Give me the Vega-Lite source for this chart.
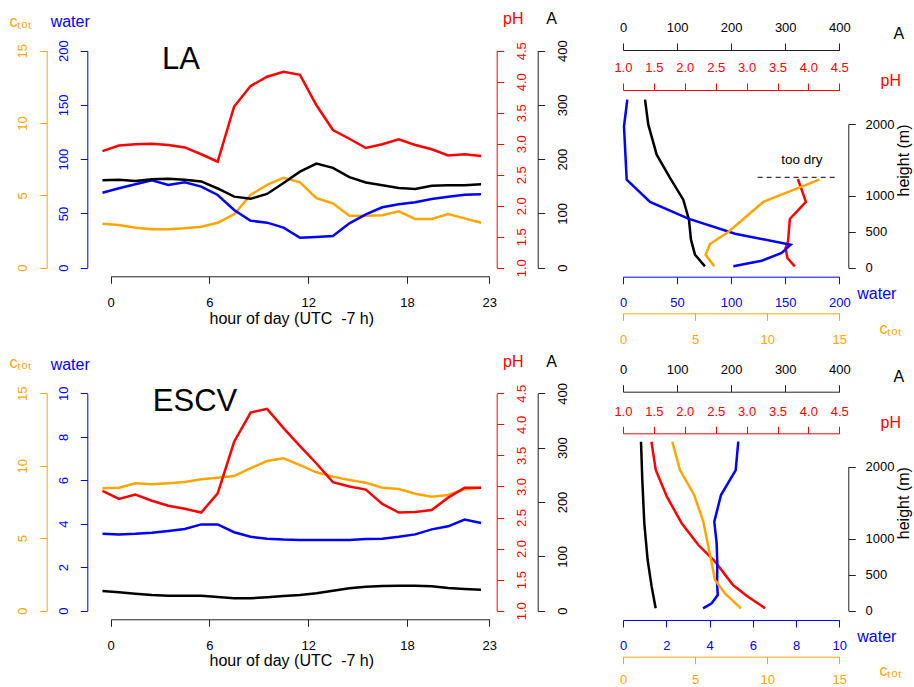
{
  "$schema": "https://vega.github.io/schema/vega-lite/v6.json",
  "width": 914,
  "height": 687,
  "autosize": "none",
  "padding": 0,
  "background": "white",
  "config": {
    "view": {"stroke": null},
    "font": "Liberation Sans",
    "axis": {"grid": false, "tickSize": 7, "labelFontSize": 13, "titleFontSize": 16, "labelFont": "Liberation Sans", "titleFont": "Liberation Sans", "titleFontWeight": "normal", "labelFlush": false, "labelOverlap": false, "labelBound": false, "titlePadding": 0, "domainWidth": 1, "tickWidth": 1},
    "text": {"font": "Liberation Sans"}
  },
  "datasets": {
    "la_d": [
      {"hour": -0.5, "ctot": 3.04, "water": 69.1, "pH": 2.88, "A": 161},
      {"hour": 0.5, "ctot": 2.95, "water": 73.2, "pH": 2.97, "A": 162},
      {"hour": 1.5, "ctot": 2.76, "water": 76.9, "pH": 2.99, "A": 160},
      {"hour": 2.5, "ctot": 2.65, "water": 80.6, "pH": 3.0, "A": 163},
      {"hour": 3.5, "ctot": 2.65, "water": 76.2, "pH": 2.98, "A": 164},
      {"hour": 4.5, "ctot": 2.72, "water": 78.7, "pH": 2.94, "A": 162},
      {"hour": 5.5, "ctot": 2.83, "water": 74.7, "pH": 2.83, "A": 159},
      {"hour": 6.5, "ctot": 3.11, "water": 67.0, "pH": 2.71, "A": 146},
      {"hour": 7.5, "ctot": 3.69, "water": 53.2, "pH": 3.6, "A": 131},
      {"hour": 8.5, "ctot": 5.03, "water": 43.3, "pH": 3.93, "A": 127},
      {"hour": 9.5, "ctot": 5.72, "water": 41.5, "pH": 4.08, "A": 136},
      {"hour": 10.5, "ctot": 6.22, "water": 36.9, "pH": 4.16, "A": 156},
      {"hour": 11.5, "ctot": 5.9, "water": 27.6, "pH": 4.11, "A": 177},
      {"hour": 12.5, "ctot": 4.8, "water": 28.3, "pH": 3.62, "A": 192},
      {"hour": 13.5, "ctot": 4.45, "water": 29.2, "pH": 3.22, "A": 184},
      {"hour": 14.5, "ctot": 3.59, "water": 40.9, "pH": 3.08, "A": 167},
      {"hour": 15.5, "ctot": 3.59, "water": 49.2, "pH": 2.93, "A": 157},
      {"hour": 16.5, "ctot": 3.62, "water": 55.7, "pH": 2.99, "A": 152},
      {"hour": 17.5, "ctot": 3.9, "water": 58.4, "pH": 3.07, "A": 147},
      {"hour": 18.5, "ctot": 3.37, "water": 60.3, "pH": 2.98, "A": 145},
      {"hour": 19.5, "ctot": 3.37, "water": 63.3, "pH": 2.91, "A": 151},
      {"hour": 20.5, "ctot": 3.71, "water": 65.4, "pH": 2.81, "A": 152},
      {"hour": 21.5, "ctot": 3.41, "water": 67.3, "pH": 2.83, "A": 152},
      {"hour": 22.5, "ctot": 3.11, "water": 67.6, "pH": 2.8, "A": 154}
    ],
    "es_d": [
      {"hour": -0.5, "ctot": 8.45, "water": 3.54, "pH": 2.93, "A": 36.2},
      {"hour": 0.5, "ctot": 8.49, "water": 3.51, "pH": 2.8, "A": 33.8},
      {"hour": 1.5, "ctot": 8.79, "water": 3.54, "pH": 2.87, "A": 31.3},
      {"hour": 2.5, "ctot": 8.72, "water": 3.59, "pH": 2.77, "A": 28.9},
      {"hour": 3.5, "ctot": 8.79, "water": 3.67, "pH": 2.69, "A": 27.6},
      {"hour": 4.5, "ctot": 8.88, "water": 3.76, "pH": 2.64, "A": 27.6},
      {"hour": 5.5, "ctot": 9.07, "water": 3.97, "pH": 2.58, "A": 27.6},
      {"hour": 6.5, "ctot": 9.18, "water": 3.97, "pH": 2.89, "A": 25.2},
      {"hour": 7.5, "ctot": 9.29, "water": 3.61, "pH": 3.72, "A": 22.8},
      {"hour": 8.5, "ctot": 9.83, "water": 3.4, "pH": 4.19, "A": 22.8},
      {"hour": 9.5, "ctot": 10.33, "water": 3.31, "pH": 4.25, "A": 24.6},
      {"hour": 10.5, "ctot": 10.51, "water": 3.27, "pH": 3.94, "A": 27.0},
      {"hour": 11.5, "ctot": 10.05, "water": 3.25, "pH": 3.65, "A": 28.9},
      {"hour": 12.5, "ctot": 9.55, "water": 3.25, "pH": 3.37, "A": 32.0},
      {"hour": 13.5, "ctot": 9.25, "water": 3.25, "pH": 3.07, "A": 36.8},
      {"hour": 14.5, "ctot": 9.02, "water": 3.25, "pH": 3.0, "A": 41.2},
      {"hour": 15.5, "ctot": 8.83, "water": 3.3, "pH": 2.95, "A": 44.2},
      {"hour": 16.5, "ctot": 8.49, "water": 3.31, "pH": 2.72, "A": 45.4},
      {"hour": 17.5, "ctot": 8.4, "water": 3.4, "pH": 2.58, "A": 46.0},
      {"hour": 18.5, "ctot": 8.07, "water": 3.51, "pH": 2.59, "A": 46.0},
      {"hour": 19.5, "ctot": 7.87, "water": 3.74, "pH": 2.62, "A": 44.9},
      {"hour": 20.5, "ctot": 7.98, "water": 3.88, "pH": 2.82, "A": 41.8},
      {"hour": 21.5, "ctot": 8.38, "water": 4.19, "pH": 2.98, "A": 39.9},
      {"hour": 22.5, "ctot": 8.49, "water": 4.03, "pH": 2.98, "A": 38.6}
    ],
    "la_w": [
      {"height": 2339, "water": 3.98}, {"height": 1968, "water": 0.92}, {"height": 1225, "water": 3.4}, {"height": 915, "water": 25},
      {"height": 682, "water": 60.4}, {"height": 473, "water": 103.6}, {"height": 320, "water": 155}, {"height": 205, "water": 146.7},
      {"height": 97, "water": 128.2}, {"height": 19, "water": 102}
    ],
    "la_a": [
      {"height": 2339, "A": 40.7}, {"height": 1991, "A": 46.8}, {"height": 1573, "A": 62.3}, {"height": 1249, "A": 86.9},
      {"height": 947, "A": 111.5}, {"height": 668, "A": 122}, {"height": 390, "A": 125.7}, {"height": 181, "A": 133.1}, {"height": 19, "A": 151.6}
    ],
    "la_c": [
      {"height": 1225, "ctot": 13.61}, {"height": 915, "ctot": 9.73}, {"height": 497, "ctot": 7.3}, {"height": 330, "ctot": 6.03},
      {"height": 181, "ctot": 5.73}, {"height": 19, "ctot": 6.33}
    ],
    "la_p": [
      {"height": 1235, "pH": 3.83}, {"height": 915, "pH": 3.96}, {"height": 678, "pH": 3.7}, {"height": 367, "pH": 3.67},
      {"height": 274, "pH": 3.63}, {"height": 135, "pH": 3.66}, {"height": 19, "pH": 3.78}
    ],
    "es_a": [
      {"height": 2347, "A": 33.3}, {"height": 1815, "A": 35.7}, {"height": 1214, "A": 39.4}, {"height": 704, "A": 45.6},
      {"height": 334, "A": 53}, {"height": 33, "A": 60.4}
    ],
    "es_p": [
      {"height": 2347, "pH": 1.46}, {"height": 1954, "pH": 1.53}, {"height": 1583, "pH": 1.71}, {"height": 1214, "pH": 1.95},
      {"height": 912, "pH": 2.22}, {"height": 681, "pH": 2.49}, {"height": 357, "pH": 2.78}, {"height": 208, "pH": 3.0}, {"height": 33, "pH": 3.3}
    ],
    "es_c": [
      {"height": 2347, "ctot": 3.42}, {"height": 1954, "ctot": 3.95}, {"height": 1607, "ctot": 4.94}, {"height": 1236, "ctot": 5.57},
      {"height": 889, "ctot": 5.92}, {"height": 658, "ctot": 6.15}, {"height": 426, "ctot": 6.38}, {"height": 241, "ctot": 7.07}, {"height": 33, "ctot": 8.18}
    ],
    "es_w": [
      {"height": 2347, "water": 5.33}, {"height": 1954, "water": 5.21}, {"height": 1607, "water": 4.53}, {"height": 1236, "water": 4.22},
      {"height": 936, "water": 4.33}, {"height": 658, "water": 4.36}, {"height": 380, "water": 4.35}, {"height": 218, "water": 4.38},
      {"height": 102, "water": 4.1}, {"height": 33, "water": 3.7}
    ],
    "la_label": [{"hour": 4.27, "water": 191.4, "label": "LA"}],
    "es_label": [{"hour": 5.12, "water": 9.59, "label": "ESCV"}],
    "dry_rule": [{"w1": 124.5, "w2": 198.5, "height": 1258}],
    "dry_text": [{"water": 165.3, "height": 1444, "label": "too dry"}]
  },
  "layer": [
    {
      "data": {"name": "la_d"},
      "mark": {"type": "line", "color": "#FFA500", "strokeWidth": 2.5},
      "encoding": {
        "x": {"field": "hour", "type": "quantitative", "scale": {"domain": [0, 23], "range": [110.7, 489.3], "nice": false, "zero": false},
          "axis": {"orient": "bottom", "offset": -410.7, "values": [0, 6, 12, 18, 23], "title": "hour of day (UTC\u00a0\u00a0-7 h)", "titleX": 291.3, "titleY": 46.7, "titleAlign": "center", "titleBaseline": "alphabetic", "titleAngle": 0, "labelAlign": "center", "labelBaseline": "alphabetic", "labelPadding": 23.4, "domainColor": "#222", "tickColor": "#222", "labelColor": "#000", "titleColor": "#000"}},
        "y": {"field": "ctot", "type": "quantitative", "scale": {"domain": [0, 15], "range": [267.7, 50.7], "nice": false, "zero": false},
          "axis": {"orient": "left", "offset": -46.7, "values": [0, 5, 10, 15], "labelAngle": -90, "labelAlign": "center", "labelBaseline": "middle", "labelPadding": 17, "title": "cₜₒₜ", "titleAngle": 0, "titleX": -26.7, "titleY": 26, "titleAlign": "center", "titleBaseline": "alphabetic", "domainColor": "#FFA500", "tickColor": "#FFA500", "labelColor": "#FFA500", "titleColor": "#FFA500"}}
      }
    },
    {
      "data": {"name": "la_d"},
      "mark": {"type": "line", "color": "#0000FF", "strokeWidth": 2.5},
      "encoding": {
        "x": {"field": "hour", "type": "quantitative", "scale": {"domain": [0, 23], "range": [110.7, 489.3], "nice": false, "zero": false}, "axis": null},
        "y": {"field": "water", "type": "quantitative", "scale": {"domain": [0, 200], "range": [267.7, 50.7], "nice": false, "zero": false},
          "axis": {"orient": "left", "offset": -87.3, "values": [0, 50, 100, 150, 200], "labelAngle": -90, "labelAlign": "center", "labelBaseline": "middle", "labelPadding": 17, "title": "water", "titleAngle": 0, "titleX": -17.6, "titleY": 26.7, "titleAlign": "center", "titleBaseline": "alphabetic", "domainColor": "#0000FF", "tickColor": "#0000FF", "labelColor": "#0000FF", "titleColor": "#0000FF"}}
      }
    },
    {
      "data": {"name": "la_d"},
      "mark": {"type": "line", "color": "#FF0000", "strokeWidth": 2.5},
      "encoding": {
        "x": {"field": "hour", "type": "quantitative", "scale": {"domain": [0, 23], "range": [110.7, 489.3], "nice": false, "zero": false}, "axis": null},
        "y": {"field": "pH", "type": "quantitative", "scale": {"domain": [1, 4.5], "range": [267.7, 50.7], "nice": false, "zero": false},
          "axis": {"orient": "right", "offset": -417.3, "values": [1, 1.5, 2, 2.5, 3, 3.5, 4, 4.5], "format": ".1f", "labelAngle": -90, "labelAlign": "center", "labelBaseline": "middle", "labelPadding": 18, "title": "pH", "titleAngle": 0, "titleX": 16.1, "titleY": 23.3, "titleAlign": "center", "titleBaseline": "alphabetic", "domainColor": "#FF0000", "tickColor": "#FF0000", "labelColor": "#FF0000", "titleColor": "#FF0000"}}
      }
    },
    {
      "data": {"name": "la_d"},
      "mark": {"type": "line", "color": "#000000", "strokeWidth": 2.5},
      "encoding": {
        "x": {"field": "hour", "type": "quantitative", "scale": {"domain": [0, 23], "range": [110.7, 489.3], "nice": false, "zero": false}, "axis": null},
        "y": {"field": "A", "type": "quantitative", "scale": {"domain": [0, 400], "range": [267.7, 50.7], "nice": false, "zero": false},
          "axis": {"orient": "right", "offset": -376.3, "values": [0, 100, 200, 300, 400], "labelAngle": -90, "labelAlign": "center", "labelBaseline": "middle", "labelPadding": 18, "title": "A", "titleAngle": 0, "titleX": 13.5, "titleY": 23.3, "titleAlign": "center", "titleBaseline": "alphabetic", "domainColor": "#222", "tickColor": "#222", "labelColor": "#000", "titleColor": "#000"}}
      }
    },
    {
      "data": {"name": "la_label"},
      "mark": {"type": "text", "fontSize": 31, "align": "center", "baseline": "middle", "color": "#000"},
      "encoding": {
        "x": {"field": "hour", "type": "quantitative", "scale": {"domain": [0, 23], "range": [110.7, 489.3], "nice": false, "zero": false}, "axis": null},
        "y": {"field": "water", "type": "quantitative", "scale": {"domain": [0, 200], "range": [267.7, 50.7], "nice": false, "zero": false}, "axis": null},
        "text": {"field": "label"}
      }
    },
    {
      "data": {"name": "es_d"},
      "mark": {"type": "line", "color": "#FFA500", "strokeWidth": 2.5},
      "encoding": {
        "x": {"field": "hour", "type": "quantitative", "scale": {"domain": [0, 23], "range": [110.7, 489.3], "nice": false, "zero": false},
          "axis": {"orient": "bottom", "offset": -67.7, "values": [0, 6, 12, 18, 23], "title": "hour of day (UTC\u00a0\u00a0-7 h)", "titleX": 291.3, "titleY": 45.7, "titleAlign": "center", "titleBaseline": "alphabetic", "titleAngle": 0, "labelAlign": "center", "labelBaseline": "alphabetic", "labelPadding": 23, "domainColor": "#222", "tickColor": "#222", "labelColor": "#000", "titleColor": "#000"}},
        "y": {"field": "ctot", "type": "quantitative", "scale": {"domain": [0, 15], "range": [610.7, 393.3], "nice": false, "zero": false},
          "axis": {"orient": "left", "offset": -46.7, "values": [0, 5, 10, 15], "labelAngle": -90, "labelAlign": "center", "labelBaseline": "middle", "labelPadding": 17, "title": "cₜₒₜ", "titleAngle": 0, "titleX": -26.7, "titleY": 367, "titleAlign": "center", "titleBaseline": "alphabetic", "domainColor": "#FFA500", "tickColor": "#FFA500", "labelColor": "#FFA500", "titleColor": "#FFA500"}}
      }
    },
    {
      "data": {"name": "es_d"},
      "mark": {"type": "line", "color": "#0000FF", "strokeWidth": 2.5},
      "encoding": {
        "x": {"field": "hour", "type": "quantitative", "scale": {"domain": [0, 23], "range": [110.7, 489.3], "nice": false, "zero": false}, "axis": null},
        "y": {"field": "water", "type": "quantitative", "scale": {"domain": [0, 10], "range": [610.7, 393.3], "nice": false, "zero": false},
          "axis": {"orient": "left", "offset": -87.3, "values": [0, 2, 4, 6, 8, 10], "labelAngle": -90, "labelAlign": "center", "labelBaseline": "middle", "labelPadding": 17, "title": "water", "titleAngle": 0, "titleX": -17.6, "titleY": 369, "titleAlign": "center", "titleBaseline": "alphabetic", "domainColor": "#0000FF", "tickColor": "#0000FF", "labelColor": "#0000FF", "titleColor": "#0000FF"}}
      }
    },
    {
      "data": {"name": "es_d"},
      "mark": {"type": "line", "color": "#FF0000", "strokeWidth": 2.5},
      "encoding": {
        "x": {"field": "hour", "type": "quantitative", "scale": {"domain": [0, 23], "range": [110.7, 489.3], "nice": false, "zero": false}, "axis": null},
        "y": {"field": "pH", "type": "quantitative", "scale": {"domain": [1, 4.5], "range": [610.7, 393.3], "nice": false, "zero": false},
          "axis": {"orient": "right", "offset": -417.3, "values": [1, 1.5, 2, 2.5, 3, 3.5, 4, 4.5], "format": ".1f", "labelAngle": -90, "labelAlign": "center", "labelBaseline": "middle", "labelPadding": 18, "title": "pH", "titleAngle": 0, "titleX": 16.1, "titleY": 366, "titleAlign": "center", "titleBaseline": "alphabetic", "domainColor": "#FF0000", "tickColor": "#FF0000", "labelColor": "#FF0000", "titleColor": "#FF0000"}}
      }
    },
    {
      "data": {"name": "es_d"},
      "mark": {"type": "line", "color": "#000000", "strokeWidth": 2.5},
      "encoding": {
        "x": {"field": "hour", "type": "quantitative", "scale": {"domain": [0, 23], "range": [110.7, 489.3], "nice": false, "zero": false}, "axis": null},
        "y": {"field": "A", "type": "quantitative", "scale": {"domain": [0, 400], "range": [610.7, 393.3], "nice": false, "zero": false},
          "axis": {"orient": "right", "offset": -376.3, "values": [0, 100, 200, 300, 400], "labelAngle": -90, "labelAlign": "center", "labelBaseline": "middle", "labelPadding": 18, "title": "A", "titleAngle": 0, "titleX": 13.5, "titleY": 366, "titleAlign": "center", "titleBaseline": "alphabetic", "domainColor": "#222", "tickColor": "#222", "labelColor": "#000", "titleColor": "#000"}}
      }
    },
    {
      "data": {"name": "es_label"},
      "mark": {"type": "text", "fontSize": 31, "align": "center", "baseline": "middle", "color": "#000"},
      "encoding": {
        "x": {"field": "hour", "type": "quantitative", "scale": {"domain": [0, 23], "range": [110.7, 489.3], "nice": false, "zero": false}, "axis": null},
        "y": {"field": "water", "type": "quantitative", "scale": {"domain": [0, 10], "range": [610.7, 393.3], "nice": false, "zero": false}, "axis": null},
        "text": {"field": "label"}
      }
    },
    {
      "data": {"name": "la_a"},
      "mark": {"type": "line", "color": "#000000", "strokeWidth": 2.5},
      "encoding": {
        "x": {"field": "A", "type": "quantitative", "scale": {"domain": [0, 400], "range": [623, 839.3], "nice": false, "zero": false},
          "axis": {"orient": "top", "offset": -50, "values": [0, 100, 200, 300, 400], "labelAlign": "center", "labelBaseline": "alphabetic", "labelPadding": 11.3, "title": "A", "titleAngle": 0, "titleX": 898.3, "titleY": -11.7, "titleAlign": "center", "titleBaseline": "alphabetic", "domainColor": "#222", "tickColor": "#222", "labelColor": "#000", "titleColor": "#000"}},
        "y": {"field": "height", "type": "quantitative", "scale": {"domain": [0, 2000], "range": [267.7, 124], "nice": false, "zero": false},
          "axis": {"orient": "right", "offset": -65.7, "values": [0, 500, 1000, 2000], "format": "d", "labelAngle": 0, "labelAlign": "left", "labelBaseline": "middle", "labelPadding": 9.7, "title": "height (m)", "titleAngle": 270, "titleX": 55, "titleY": 160, "titleAlign": "center", "titleBaseline": "middle", "domainColor": "#222", "tickColor": "#222", "labelColor": "#000", "titleColor": "#000"}},
        "order": {"field": "height", "type": "quantitative"}
      }
    },
    {
      "data": {"name": "la_p"},
      "mark": {"type": "line", "color": "#FF0000", "strokeWidth": 2.5},
      "encoding": {
        "x": {"field": "pH", "type": "quantitative", "scale": {"domain": [1, 4.5], "range": [623, 839.3], "nice": false, "zero": false},
          "axis": {"orient": "top", "offset": -90, "values": [1, 1.5, 2, 2.5, 3, 3.5, 4, 4.5], "format": ".1f", "labelAlign": "center", "labelBaseline": "alphabetic", "labelPadding": 11.3, "title": "pH", "titleAngle": 0, "titleX": 890.3, "titleY": -5, "titleAlign": "center", "titleBaseline": "alphabetic", "domainColor": "#FF0000", "tickColor": "#FF0000", "labelColor": "#FF0000", "titleColor": "#FF0000"}},
        "y": {"field": "height", "type": "quantitative", "scale": {"domain": [0, 2000], "range": [267.7, 124], "nice": false, "zero": false}, "axis": null},
        "order": {"field": "height", "type": "quantitative"}
      }
    },
    {
      "data": {"name": "la_w"},
      "mark": {"type": "line", "color": "#0000FF", "strokeWidth": 2.5},
      "encoding": {
        "x": {"field": "water", "type": "quantitative", "scale": {"domain": [0, 200], "range": [623, 839.3], "nice": false, "zero": false},
          "axis": {"orient": "bottom", "offset": -410.3, "values": [0, 50, 100, 150, 200], "labelAlign": "center", "labelBaseline": "alphabetic", "labelPadding": 23, "title": "water", "titleAngle": 0, "titleX": 876.3, "titleY": 21.6, "titleAlign": "center", "titleBaseline": "alphabetic", "domainColor": "#0000FF", "tickColor": "#0000FF", "labelColor": "#0000FF", "titleColor": "#0000FF"}},
        "y": {"field": "height", "type": "quantitative", "scale": {"domain": [0, 2000], "range": [267.7, 124], "nice": false, "zero": false}, "axis": null},
        "order": {"field": "height", "type": "quantitative"}
      }
    },
    {
      "data": {"name": "la_c"},
      "mark": {"type": "line", "color": "#FFA500", "strokeWidth": 2.5},
      "encoding": {
        "x": {"field": "ctot", "type": "quantitative", "scale": {"domain": [0, 15], "range": [623, 839.3], "nice": false, "zero": false},
          "axis": {"orient": "bottom", "offset": -373.7, "values": [0, 5, 10, 15], "labelAlign": "center", "labelBaseline": "alphabetic", "labelPadding": 23, "title": "cₜₒₜ", "titleAngle": 0, "titleX": 890, "titleY": 19.7, "titleAlign": "center", "titleBaseline": "alphabetic", "domainColor": "#FFA500", "tickColor": "#FFA500", "labelColor": "#FFA500", "titleColor": "#FFA500"}},
        "y": {"field": "height", "type": "quantitative", "scale": {"domain": [0, 2000], "range": [267.7, 124], "nice": false, "zero": false}, "axis": null},
        "order": {"field": "height", "type": "quantitative"}
      }
    },
    {
      "data": {"name": "dry_rule"},
      "mark": {"type": "rule", "color": "#000", "strokeWidth": 1, "strokeDash": [5, 4]},
      "encoding": {
        "x": {"field": "w1", "type": "quantitative", "scale": {"domain": [0, 200], "range": [623, 839.3], "nice": false, "zero": false}, "axis": null},
        "x2": {"field": "w2"},
        "y": {"field": "height", "type": "quantitative", "scale": {"domain": [0, 2000], "range": [267.7, 124], "nice": false, "zero": false}, "axis": null}
      }
    },
    {
      "data": {"name": "dry_text"},
      "mark": {"type": "text", "fontSize": 13.5, "align": "center", "baseline": "alphabetic", "color": "#000"},
      "encoding": {
        "x": {"field": "water", "type": "quantitative", "scale": {"domain": [0, 200], "range": [623, 839.3], "nice": false, "zero": false}, "axis": null},
        "y": {"field": "height", "type": "quantitative", "scale": {"domain": [0, 2000], "range": [267.7, 124], "nice": false, "zero": false}, "axis": null},
        "text": {"field": "label"}
      }
    },
    {
      "data": {"name": "es_a"},
      "mark": {"type": "line", "color": "#000000", "strokeWidth": 2.5},
      "encoding": {
        "x": {"field": "A", "type": "quantitative", "scale": {"domain": [0, 400], "range": [623, 839.3], "nice": false, "zero": false},
          "axis": {"orient": "top", "offset": -391.7, "values": [0, 100, 200, 300, 400], "labelAlign": "center", "labelBaseline": "alphabetic", "labelPadding": 11.3, "title": "A", "titleAngle": 0, "titleX": 898.3, "titleY": -10, "titleAlign": "center", "titleBaseline": "alphabetic", "domainColor": "#222", "tickColor": "#222", "labelColor": "#000", "titleColor": "#000"}},
        "y": {"field": "height", "type": "quantitative", "scale": {"domain": [0, 2000], "range": [610.7, 466.7], "nice": false, "zero": false},
          "axis": {"orient": "right", "offset": -65.7, "values": [0, 500, 1000, 2000], "format": "d", "labelAngle": 0, "labelAlign": "left", "labelBaseline": "middle", "labelPadding": 9.7, "title": "height (m)", "titleAngle": 270, "titleX": 55, "titleY": 502.7, "titleAlign": "center", "titleBaseline": "middle", "domainColor": "#222", "tickColor": "#222", "labelColor": "#000", "titleColor": "#000"}},
        "order": {"field": "height", "type": "quantitative"}
      }
    },
    {
      "data": {"name": "es_p"},
      "mark": {"type": "line", "color": "#FF0000", "strokeWidth": 2.5},
      "encoding": {
        "x": {"field": "pH", "type": "quantitative", "scale": {"domain": [1, 4.5], "range": [623, 839.3], "nice": false, "zero": false},
          "axis": {"orient": "top", "offset": -433.3, "values": [1, 1.5, 2, 2.5, 3, 3.5, 4, 4.5], "format": ".1f", "labelAlign": "center", "labelBaseline": "alphabetic", "labelPadding": 11.3, "title": "pH", "titleAngle": 0, "titleX": 890.3, "titleY": -6, "titleAlign": "center", "titleBaseline": "alphabetic", "domainColor": "#FF0000", "tickColor": "#FF0000", "labelColor": "#FF0000", "titleColor": "#FF0000"}},
        "y": {"field": "height", "type": "quantitative", "scale": {"domain": [0, 2000], "range": [610.7, 466.7], "nice": false, "zero": false}, "axis": null},
        "order": {"field": "height", "type": "quantitative"}
      }
    },
    {
      "data": {"name": "es_w"},
      "mark": {"type": "line", "color": "#0000FF", "strokeWidth": 2.5},
      "encoding": {
        "x": {"field": "water", "type": "quantitative", "scale": {"domain": [0, 10], "range": [623, 839.3], "nice": false, "zero": false},
          "axis": {"orient": "bottom", "offset": -67, "values": [0, 2, 4, 6, 8, 10], "labelAlign": "center", "labelBaseline": "alphabetic", "labelPadding": 22.5, "title": "water", "titleAngle": 0, "titleX": 876.3, "titleY": 21, "titleAlign": "center", "titleBaseline": "alphabetic", "domainColor": "#0000FF", "tickColor": "#0000FF", "labelColor": "#0000FF", "titleColor": "#0000FF"}},
        "y": {"field": "height", "type": "quantitative", "scale": {"domain": [0, 2000], "range": [610.7, 466.7], "nice": false, "zero": false}, "axis": null},
        "order": {"field": "height", "type": "quantitative"}
      }
    },
    {
      "data": {"name": "es_c"},
      "mark": {"type": "line", "color": "#FFA500", "strokeWidth": 2.5},
      "encoding": {
        "x": {"field": "ctot", "type": "quantitative", "scale": {"domain": [0, 15], "range": [623, 839.3], "nice": false, "zero": false},
          "axis": {"orient": "bottom", "offset": -30.3, "values": [0, 5, 10, 15], "labelAlign": "center", "labelBaseline": "alphabetic", "labelPadding": 19.5, "title": "cₜₒₜ", "titleAngle": 0, "titleX": 890, "titleY": 18.3, "titleAlign": "center", "titleBaseline": "alphabetic", "domainColor": "#FFA500", "tickColor": "#FFA500", "labelColor": "#FFA500", "titleColor": "#FFA500"}},
        "y": {"field": "height", "type": "quantitative", "scale": {"domain": [0, 2000], "range": [610.7, 466.7], "nice": false, "zero": false}, "axis": null},
        "order": {"field": "height", "type": "quantitative"}
      }
    }
  ],
  "resolve": {"scale": {"x": "independent", "y": "independent"}, "axis": {"x": "independent", "y": "independent"}}
}
